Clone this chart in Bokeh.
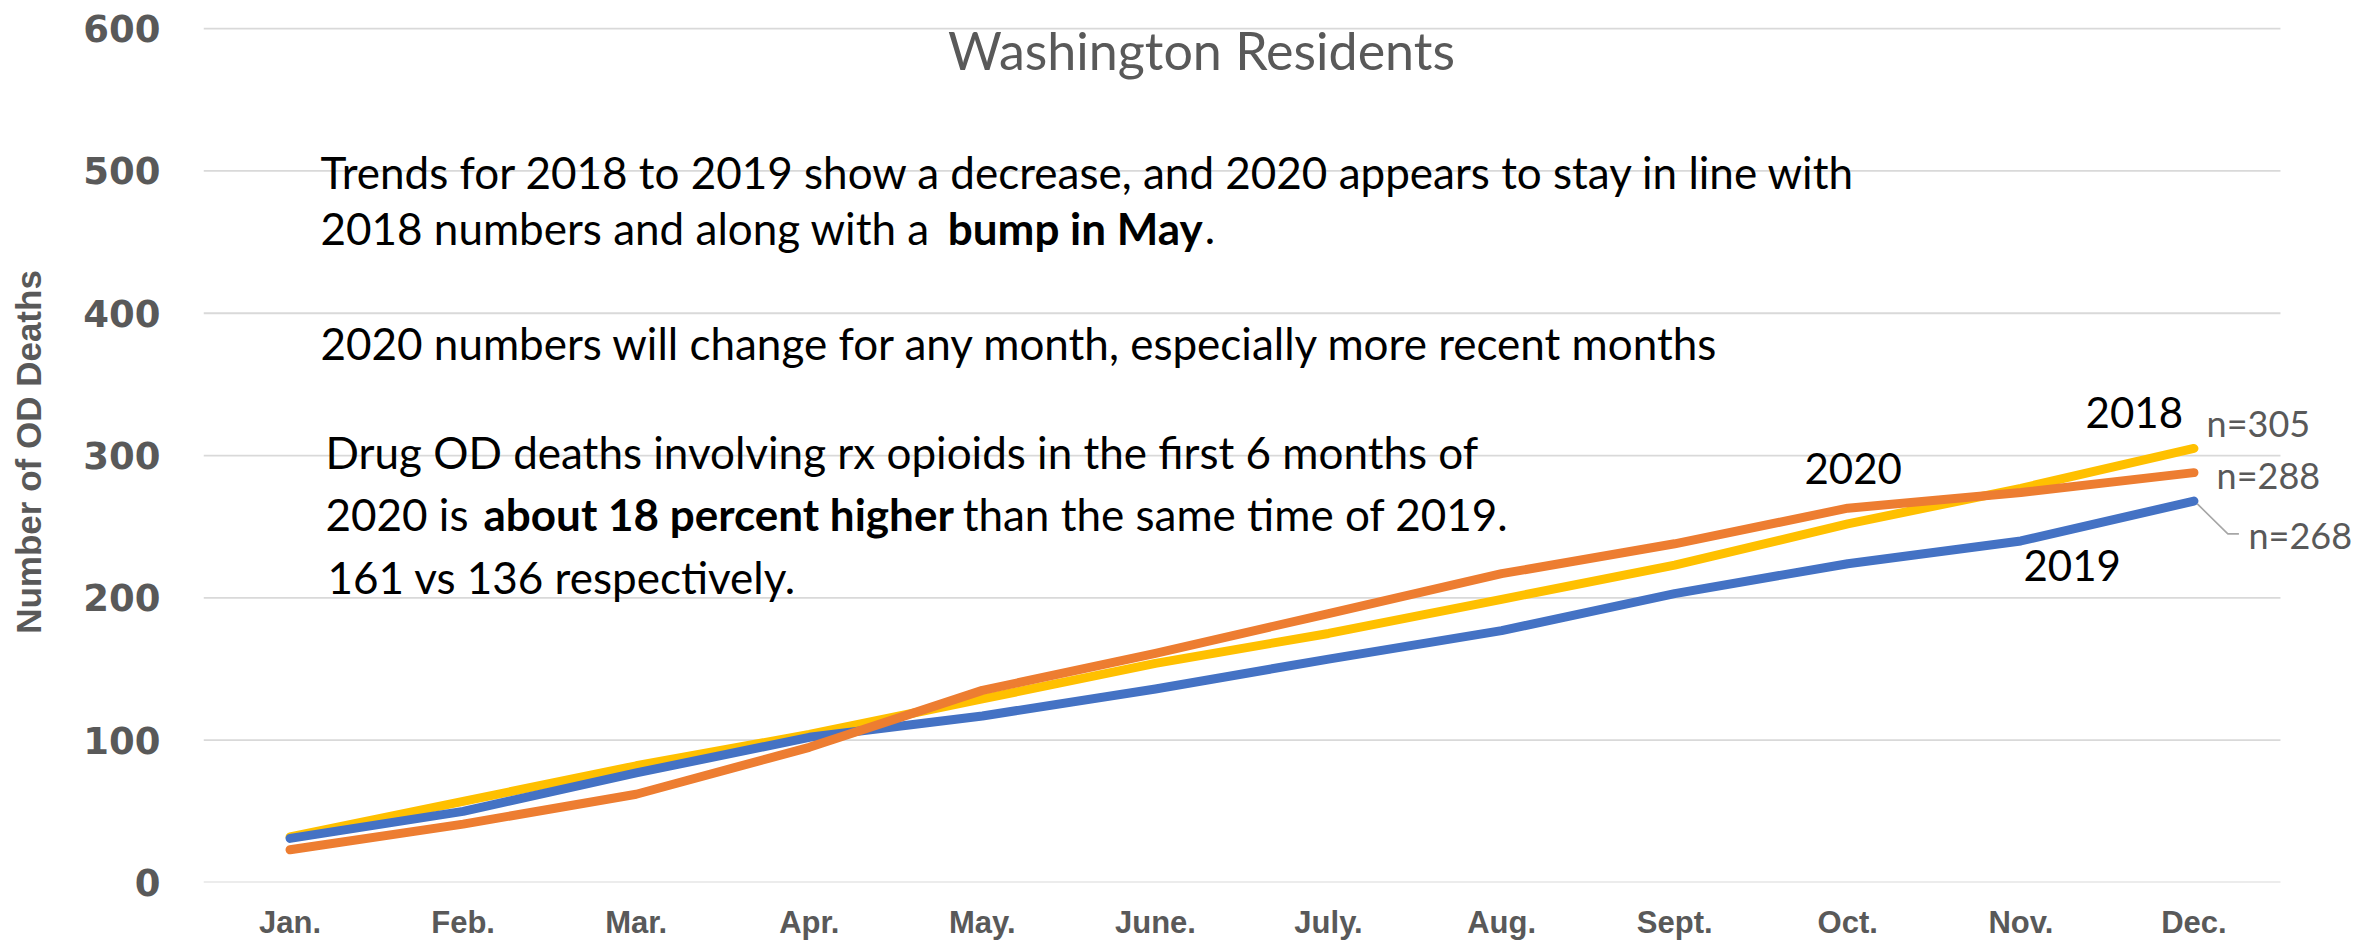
import math
import numpy as np
from bokeh.plotting import figure
from bokeh.models import Range1d, FixedTicker, Label, ColumnDataSource
from bokeh.embed import file_html
from bokeh.resources import INLINE

# ---------------- data ----------------
months = ["Jan.", "Feb.", "Mar.", "Apr.", "May.", "June.", "July.", "Aug.", "Sept.", "Oct.", "Nov.", "Dec."]
deaths_2018 = [32, 57, 82, 104, 129, 154, 175, 199, 223, 252, 277, 305]
deaths_2019 = [31, 50, 77, 102, 117, 136, 157, 177, 203, 224, 240, 268]
deaths_2020 = [23, 41, 62, 95, 135, 161, 189, 217, 238, 263, 274, 288]
y_ticks = [0, 100, 200, 300, 400, 500, 600]

title_text = "Washington Residents"
y_title = "Number of OD Deaths"

GRAY = "#595959"
C2018 = "#FFC000"
C2019 = "#4472C4"
C2020 = "#ED7D31"

W, H = 2377, 943
FRAME_L, FRAME_T, FRAME_B = 203, 21, 882
STEP = 173.08
PX_PER_UNIT = (FRAME_B - FRAME_T) / 605.0

xs = np.arange(len(months))
src = ColumnDataSource(dict(x=xs, y18=deaths_2018, y19=deaths_2019, y20=deaths_2020))

x_end = -0.5 + (W - FRAME_L) / STEP
p = figure(width=W, height=H,
           x_range=Range1d(-0.5, x_end),
           y_range=Range1d(y_ticks[0], 605),
           output_backend="svg", toolbar_location=None,
           min_border_left=FRAME_L, min_border_right=0,
           min_border_top=FRAME_T, min_border_bottom=H - FRAME_B)
p.outline_line_color = None
p.background_fill_color = "white"
p.border_fill_color = "white"

# axes
p.xaxis.ticker = FixedTicker(ticks=list(xs))
p.xaxis.major_label_overrides = {int(i): m for i, m in zip(xs, months)}
p.yaxis.ticker = FixedTicker(ticks=y_ticks)
for ax in (p.xaxis[0], p.yaxis[0]):
    ax.axis_line_color = None
    ax.major_tick_line_color = None
    ax.minor_tick_line_color = None
    ax.major_tick_out = 0
    ax.major_tick_in = 0
    ax.major_label_text_color = GRAY
    ax.major_label_text_font_style = "bold"
p.yaxis.major_label_text_font = "DejaVu Sans"
p.yaxis.major_label_text_font_size = "37px"
p.yaxis.major_label_standoff = 43
p.yaxis.axis_label = y_title
p.yaxis.axis_label_text_font = "Liberation Sans"
p.yaxis.axis_label_text_font_style = "bold"
p.yaxis.axis_label_text_font_size = "35px"
p.yaxis.axis_label_text_color = GRAY
p.yaxis.axis_label_standoff = 32
p.xaxis.major_label_text_font = "Liberation Sans"
p.xaxis.major_label_text_font_size = "31px"
p.xaxis.major_label_standoff = 22

# horizontal gridlines spanning the category area only
p.xgrid.grid_line_color = None
p.ygrid.grid_line_color = None
n = len(y_ticks)
p.segment(x0=[xs[0] - 0.5] * n, x1=[xs[-1] + 0.5] * n, y0=y_ticks, y1=y_ticks,
          line_color="#D9D9D9", line_width=1.8, level="underlay")

# lines
for col, c in (("y18", C2018), ("y19", C2019), ("y20", C2020)):
    p.line("x", col, source=src, line_color=c, line_width=9,
           line_cap="round", line_join="round")

# leader line for 2019 label
lx = xs[-1]
ly = deaths_2019[-1]
p.line([lx + 0.02, lx + 0.196, lx + 0.26], [ly - 2, ly - 23, ly - 23],
       line_color="#A6A6A6", line_width=1.6)


def add_text(txt, x, y, size, color="black", bold=False, font="Lato", align="left"):
    # y is the intended baseline (data units); compensate renderer baseline shift
    yy = y + 0.36 * size / PX_PER_UNIT
    p.add_layout(Label(x=x, y=yy, text=txt, text_font=font,
                       text_font_size=f"{size}px", text_color=color,
                       text_font_style="bold" if bold else "normal",
                       text_align=align, text_baseline="alphabetic"))


# title
add_text(title_text, 5.266, 571.9, 52, color=GRAY, align="center")

# annotation paragraphs
FS = 44
add_text("Trends for 2018 to 2019 show a decrease, and 2020 appears to stay in line with", 0.176, 488.3, FS)
add_text("2018 numbers and along with a", 0.176, 449.0, FS)
add_text("bump in May", 3.80, 449.0, FS, bold=True)
add_text(".", 5.285, 449.0, FS)
add_text("2020 numbers will change for any month, especially more recent months", 0.176, 367.7, FS)
add_text("Drug OD deaths involving rx opioids in the first 6 months of", 0.205, 291.6, FS)
add_text("2020 is", 0.205, 248.0, FS)
add_text("about 18 percent higher", 1.118, 248.0, FS, bold=True)
add_text("than the same time of 2019.", 7.04, 248.0, FS, align="right")
add_text("161 vs 136 respectively.", 0.216, 203.7, FS)

# series labels
add_text("2018", 10.374, 319.3, 42)
add_text("2020", 8.750, 280.3, 42)
add_text("2019", 10.015, 212.2, 42)

# end value labels
add_text(f"n={deaths_2018[-1]}", 11.073, 313.5, 36, color=GRAY)
add_text(f"n={deaths_2020[-1]}", 11.131, 277.5, 36, color=GRAY)
add_text(f"n={deaths_2019[-1]}", 11.315, 235.4, 36, color=GRAY)

open("out.html", "w").write(file_html(p, INLINE))
